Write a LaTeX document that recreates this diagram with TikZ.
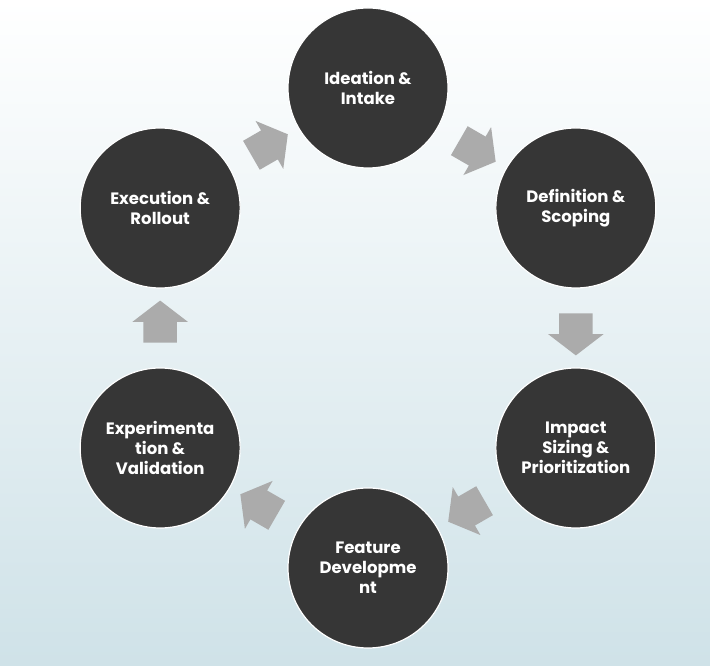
\documentclass[tikz,border=0pt]{standalone}
\usepackage{fontspec}
\setmainfont{Poppins}
\usetikzlibrary{shapes.arrows,calc}
\definecolor{disc}{HTML}{363636}
\definecolor{blockgray}{HTML}{ABABAB}
\definecolor{skytop}{HTML}{FFFFFF}
\definecolor{skybot}{HTML}{CFE2E8}
\tikzset{
  stage/.style={circle,draw=white,fill=disc,line width=1.2pt,
                minimum size=160pt,inner sep=0pt,align=center,text=white,
                font=\fontsize{16.5}{20}\selectfont\bfseries},
  blockarr/.style={single arrow,fill=blockgray,draw=none,
                   inner xsep=0pt,inner ysep=16.5pt,
                   minimum height=42pt,minimum width=55pt,
                   single arrow head extend=11pt,single arrow tip angle=105}
}
\begin{document}
\begin{tikzpicture}[x=1pt,y=1pt]
  \useasboundingbox (0,0) rectangle (710,666);
  \shade[top color=skytop,bottom color=skybot] (0,0) rectangle (710,666);
  \coordinate (hub) at (368,338);
  \node[stage] (ide) at ($(hub)+(90:240)$) {Ideation \&\\Intake};
  \node[stage] (def) at ($(hub)+(30:240)$) {Definition \&\\Scoping};
  \node[stage] (imp) at ($(hub)+(-30:240)$) {Impact\\Sizing \&\\Prioritization};
  \node[stage] (fea) at ($(hub)+(-90:240)$) {Feature\\Developme\\nt};
  \node[stage] (exp) at ($(hub)+(-150:240)$) {Experimenta\\tion \&\\Validation};
  \node[stage] (exe) at ($(hub)+(150:240)$) {Execution \&\\Rollout};
  % block arrows between the stages
  \node[blockarr,rotate=-30] (a1) at ($(ide)!0.5!(def)$) {};
  \node[blockarr,rotate=-90] (a2) at ($(def)!0.5!(imp)$) {};
  \node[blockarr,rotate=-150] (a3) at ($(imp)!0.5!(fea)$) {};
  \node[blockarr,rotate=150] (a4) at ($(fea)!0.5!(exp)$) {};
  \node[blockarr,rotate=90] (a5) at ($(exp)!0.5!(exe)$) {};
  \node[blockarr,rotate=30] (a6) at ($(exe)!0.5!(ide)$) {};
\end{tikzpicture}
\end{document}
